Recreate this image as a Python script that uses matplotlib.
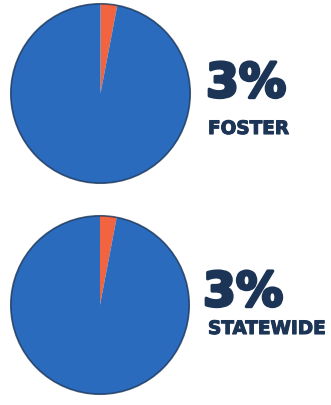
import matplotlib.pyplot as plt
import matplotlib.patheffects as pe

# share of each group shown in the two pies
groups = ["FOSTER", "STATEWIDE"]
shares = [3, 3]

blue = "#2a6bbd"
orange = "#f2643f"
navy = "#1c3557"

W, H = 331, 406
fig = plt.figure(figsize=(W / 100, H / 100), dpi=100)

# pie boxes in pixels: (left, top, size)
boxes = [(9, 3, 183), (9, 215, 182)]
# text baselines in pixels: (percent, label)
baselines = [(98, 135), (307, 335)]
pct_x = [206, 203]

heavy = [pe.withStroke(linewidth=2.2, foreground=navy)]
semi = [pe.withStroke(linewidth=0.8, foreground=navy)]

for name, pct, (left, top, size), (b1, b2), px in zip(groups, shares, boxes, baselines, pct_x):
    ax = fig.add_axes([left / W, 1 - (top + size) / H, size / W, size / H])
    ax.pie([pct, 100 - pct], colors=[orange, blue], startangle=90, counterclock=False,
           wedgeprops=dict(edgecolor="none"))
    ax.add_patch(plt.Circle((0, 0), 1, fill=False, edgecolor=navy, linewidth=1.2, alpha=0.8))
    ax.set_xlim(-1.02, 1.02)
    ax.set_ylim(-1.02, 1.02)
    ax.set_aspect("equal")
    ax.axis("off")

    fig.text(px / W, 1 - b1 / H, f"{pct}%", fontsize=34, fontweight="bold",
             family="DejaVu Sans", color=navy, ha="left", va="baseline", path_effects=heavy)
    fig.text(208 / W, 1 - b2 / H, name, fontsize=13.3, fontweight="bold",
             family="DejaVu Sans", color=navy, ha="left", va="baseline", path_effects=semi)

fig.savefig("out.png", dpi=100)
